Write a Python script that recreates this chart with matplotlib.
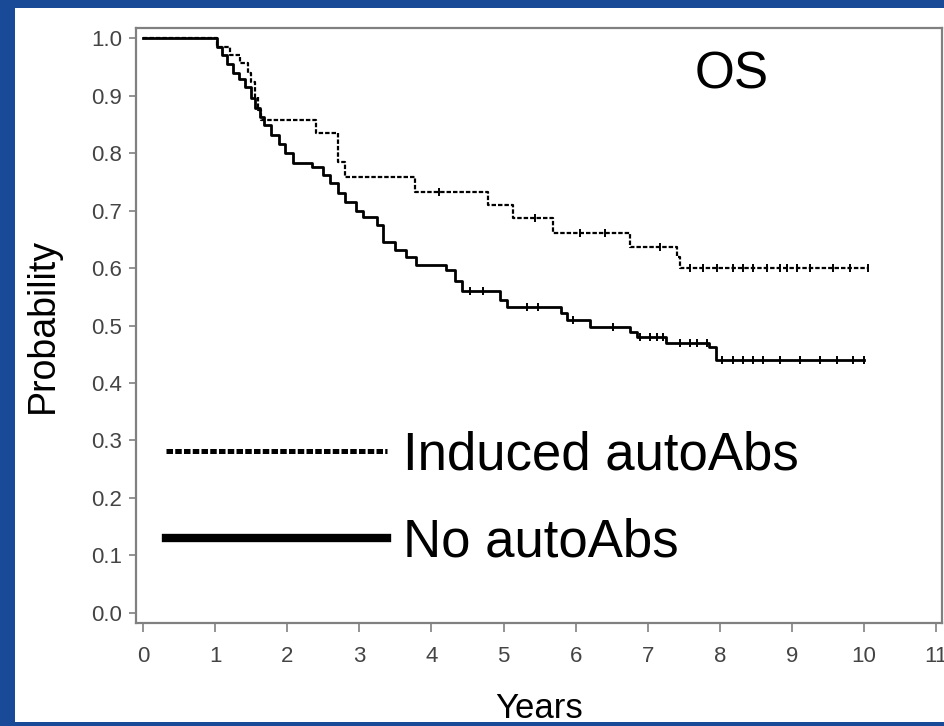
import numpy as np
import matplotlib.pyplot as plt
from matplotlib.lines import Line2D
from matplotlib.patches import Rectangle

plt.rcParams['font.family'] = ['Liberation Sans', 'DejaVu Sans']

# Kaplan-Meier steps (years, survival after step)
no_t = [0.0, 1.03, 1.10, 1.17, 1.25, 1.33, 1.42, 1.50, 1.55, 1.62, 1.68, 1.78, 1.88, 1.97, 2.08,
        2.35, 2.50, 2.60, 2.70, 2.80, 2.95, 3.05, 3.25, 3.33, 3.50, 3.65, 3.78, 4.20, 4.32, 4.42,
        4.95, 5.05, 5.80, 5.88, 6.20, 6.75, 6.85, 7.25, 7.85, 7.95, 10.0]
no_s = [1.0, 0.985, 0.970, 0.955, 0.940, 0.928, 0.915, 0.895, 0.878, 0.862, 0.848, 0.832, 0.815, 0.800, 0.783,
        0.775, 0.762, 0.748, 0.730, 0.715, 0.700, 0.688, 0.675, 0.645, 0.632, 0.620, 0.605, 0.597, 0.578, 0.560,
        0.545, 0.532, 0.522, 0.510, 0.497, 0.488, 0.480, 0.470, 0.462, 0.440, 0.440]
no_cens = [4.54, 4.72, 5.33, 5.48, 5.96, 6.52, 6.89, 7.03, 7.13, 7.21, 7.45, 7.59, 7.68, 7.82,
           8.03, 8.18, 8.32, 8.46, 8.60, 8.83, 9.11, 9.39, 9.63, 9.85, 10.0]

ind_t = [0.0, 1.03, 1.20, 1.35, 1.45, 1.50, 1.56, 1.60, 1.64, 2.40, 2.70, 2.80, 3.77, 4.78,
         5.13, 5.68, 6.75, 7.40, 7.45, 10.05]
ind_s = [1.0, 0.985, 0.970, 0.956, 0.940, 0.923, 0.897, 0.875, 0.857, 0.835, 0.785, 0.758, 0.732, 0.710,
         0.687, 0.661, 0.637, 0.620, 0.600, 0.600]
ind_cens = [4.10, 5.44, 6.06, 6.40, 7.17, 7.59, 7.77, 7.96, 8.18, 8.32, 8.46, 8.65, 8.83, 8.93,
            9.07, 9.25, 9.57, 9.81, 10.05]

x_ticks = list(range(0, 12))
y_ticks = [0.0, 0.1, 0.2, 0.3, 0.4, 0.5, 0.6, 0.7, 0.8, 0.9, 1.0]
labels = ['Induced autoAbs', 'No autoAbs']


def at(t, s, times):
    """survival value of a step curve at the given times"""
    idx = np.searchsorted(t, times, side='right') - 1
    return np.asarray(s)[idx]


fig = plt.figure(figsize=(9.44, 7.26), dpi=100, facecolor='#184a98')
# white slide panel over the blue background
panel = Rectangle((15 / 944, 4 / 726), 1, 714 / 726, transform=fig.transFigure,
                  facecolor='white', edgecolor='none', zorder=-10)
fig.add_artist(panel)

ax = fig.add_axes([136 / 944, 1 - 623 / 726, 806 / 944, 595 / 726])
ax.set_facecolor('white')

dot_style = (0, (2.0, 0.9))
ax.step(ind_t, ind_s, where='post', color='black', lw=1.6, linestyle=dot_style)
ax.step(no_t, no_s, where='post', color='black', lw=2.0)
ax.plot(ind_cens, at(ind_t, ind_s, ind_cens), linestyle='none', marker='|', ms=6, mew=1.4, color='black')
ax.plot(no_cens, at(no_t, no_s, no_cens), linestyle='none', marker='|', ms=6, mew=1.4, color='black')

ax.set_xlim(-0.097, 11.08)
ax.set_ylim(-0.0174, 1.0174)
ax.set_xticks(x_ticks)
ax.set_yticks(y_ticks)
ax.set_yticklabels([f'{v:.1f}' for v in y_ticks])

for sp in ax.spines.values():
    sp.set_color('#808080')
    sp.set_linewidth(1.6)
ax.tick_params(axis='y', length=5, width=1.2, color='#808080', pad=5, labelsize=16, labelcolor='#444444')
ax.tick_params(axis='x', length=6.5, width=1.2, color='#808080', pad=10, labelsize=16, labelcolor='#444444')

ax.set_ylabel('Probability', fontsize=27, labelpad=22)
ax.set_xlabel('Years', fontsize=25, labelpad=18)

ax.text(8.17, 0.913, 'OS', fontsize=37, ha='center', va='baseline')

handles = [Line2D([], [], color='black', lw=3.6, linestyle=(0, (1.3, 0.45))),
           Line2D([], [], color='black', lw=6)]
ax.legend(handles, labels, loc='upper left', bbox_to_anchor=(0.037, 0.324), frameon=False,
          fontsize=38, handlelength=4.2, handletextpad=0.3, labelspacing=0.7,
          borderpad=0, borderaxespad=0)

plt.savefig('out.png', dpi=100, facecolor=fig.get_facecolor())
